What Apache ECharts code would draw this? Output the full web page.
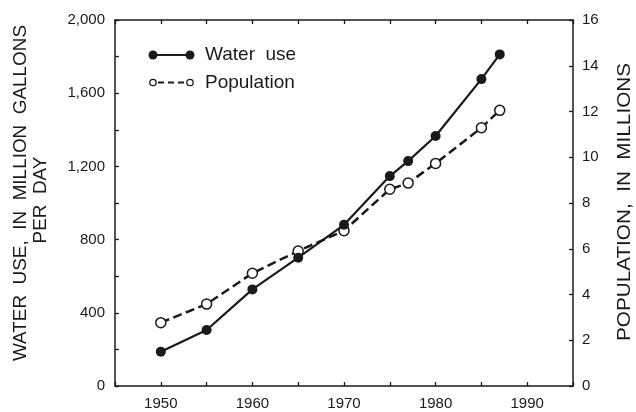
<!DOCTYPE html>
<html>
<head>
<meta charset="utf-8">
<script src="https://cdn.jsdelivr.net/npm/echarts@6/dist/echarts.min.js"></script>
<style>html,body{margin:0;padding:0;background:#fff}#c{width:636px;height:412px}</style>
</head>
<body>
<div id="c"></div>
<script>
var years = [1950, 1955, 1960, 1965, 1970, 1975, 1977, 1980, 1985, 1987];
var waterUse = [187, 306, 528, 701, 881, 1147, 1229, 1366, 1677, 1812];
var population = [2.77, 3.58, 4.93, 5.90, 6.79, 8.60, 8.87, 9.73, 11.29, 12.05];
var seriesNames = ['Water  use', 'Population'];
var leftTitle1 = 'WATER  USE,  IN  MILLION  GALLONS';
var leftTitle2 = 'PER  DAY';
var rightTitle = 'POPULATION,  IN  MILLIONS';

var FONT = '"Liberation Sans", Arial, sans-serif';
var INK = '#1a1a1a';

function pairs(xs, ys){ return xs.map(function(x,i){ return [x, ys[i]]; }); }

var chart = echarts.init(document.getElementById('c'), null, {renderer:'canvas'});
var axisLineStyle = {color: INK, width: 1.5};
var tickStyle = {color: INK, width: 1.3};
var option = {
  backgroundColor: '#fff',
  animation: false,
  grid: {left: 115, right: 63, top: 20, bottom: 26},
  xAxis: [{
    type: 'value', min: 1945, max: 1995, interval: 5, position: 'bottom',
    axisLine: {show: true, onZero: false, lineStyle: axisLineStyle},
    axisTick: {show: true, inside: true, length: 4, lineStyle: tickStyle},
    axisLabel: {margin: 10, fontFamily: FONT, fontSize: 15, color: INK,
      formatter: function(v){ return v % 10 === 0 ? String(v) : ''; }},
    splitLine: {show: false}
  }, {
    type: 'value', min: 1945, max: 1995, interval: 5, position: 'top',
    axisLine: {show: true, onZero: false, lineStyle: axisLineStyle},
    axisTick: {show: true, inside: true, length: 4, lineStyle: tickStyle},
    axisLabel: {show: false},
    splitLine: {show: false}
  }],
  yAxis: [{
    type: 'value', min: 0, max: 2000, interval: 200, position: 'left',
    axisLine: {show: true, onZero: false, lineStyle: axisLineStyle},
    axisTick: {show: true, inside: true, length: 4, lineStyle: tickStyle},
    axisLabel: {margin: 10, fontFamily: FONT, fontSize: 15, color: INK,
      formatter: function(v){ return v % 400 === 0 ? v.toLocaleString('en-US') : ''; }},
    splitLine: {show: false}
  }, {
    type: 'value', min: 0, max: 16, interval: 2, position: 'right',
    axisLine: {show: true, onZero: false, lineStyle: axisLineStyle},
    axisTick: {show: true, inside: true, length: 4, lineStyle: tickStyle},
    axisLabel: {margin: 9, fontFamily: FONT, fontSize: 15, color: INK},
    splitLine: {show: false}
  }],
  series: [{
    name: seriesNames[1], type: 'line', xAxisIndex: 0, yAxisIndex: 1,
    data: pairs(years, population),
    symbol: 'circle', symbolSize: 10,
    lineStyle: {color: INK, width: 2.5, type: [9, 4.5]},
    itemStyle: {color: '#fff', borderColor: INK, borderWidth: 1.5},
    z: 3
  }, {
    name: seriesNames[0], type: 'line', xAxisIndex: 0, yAxisIndex: 0,
    data: pairs(years, waterUse),
    symbol: 'circle', symbolSize: 10,
    lineStyle: {color: INK, width: 2.2},
    itemStyle: {color: INK, borderColor: INK, borderWidth: 0},
    z: 4
  }],
  graphic: [
    {type: 'text', x: 21, y: 193, rotation: Math.PI/2, scaleX: 1.05,
      style: {text: leftTitle1, font: '18px ' + FONT, fill: INK, textAlign: 'center', textVerticalAlign: 'middle'}},
    {type: 'text', x: 41, y: 200, rotation: Math.PI/2, scaleX: 1.05,
      style: {text: leftTitle2, font: '18px ' + FONT, fill: INK, textAlign: 'center', textVerticalAlign: 'middle'}},
    {type: 'text', x: 625, y: 202, rotation: Math.PI/2, scaleX: 1.15,
      style: {text: rightTitle, font: '18px ' + FONT, fill: INK, textAlign: 'center', textVerticalAlign: 'middle'}},
    // legend
    {type: 'line', shape: {x1: 153, y1: 55, x2: 190, y2: 55}, style: {stroke: INK, lineWidth: 2.2}},
    {type: 'circle', shape: {cx: 153, cy: 55, r: 4.5}, style: {fill: INK}},
    {type: 'circle', shape: {cx: 190, cy: 55, r: 4.5}, style: {fill: INK}},
    {type: 'text', x: 205, y: 55, style: {text: seriesNames[0], font: '19px ' + FONT, fill: INK, textVerticalAlign: 'middle'}},
    {type: 'line', shape: {x1: 156, y1: 82.5, x2: 187, y2: 82.5}, style: {stroke: INK, lineWidth: 2.2, lineDash: [6, 4], lineDashOffset: -2}},
    {type: 'circle', shape: {cx: 153, cy: 82.5, r: 3.2}, style: {fill: '#fff', stroke: INK, lineWidth: 1.3}},
    {type: 'circle', shape: {cx: 190, cy: 82.5, r: 3.2}, style: {fill: '#fff', stroke: INK, lineWidth: 1.3}},
    {type: 'text', x: 205, y: 83, style: {text: seriesNames[1], font: '19px ' + FONT, fill: INK, textVerticalAlign: 'middle'}}
  ]
};
chart.setOption(option);
</script>
</body>
</html>
